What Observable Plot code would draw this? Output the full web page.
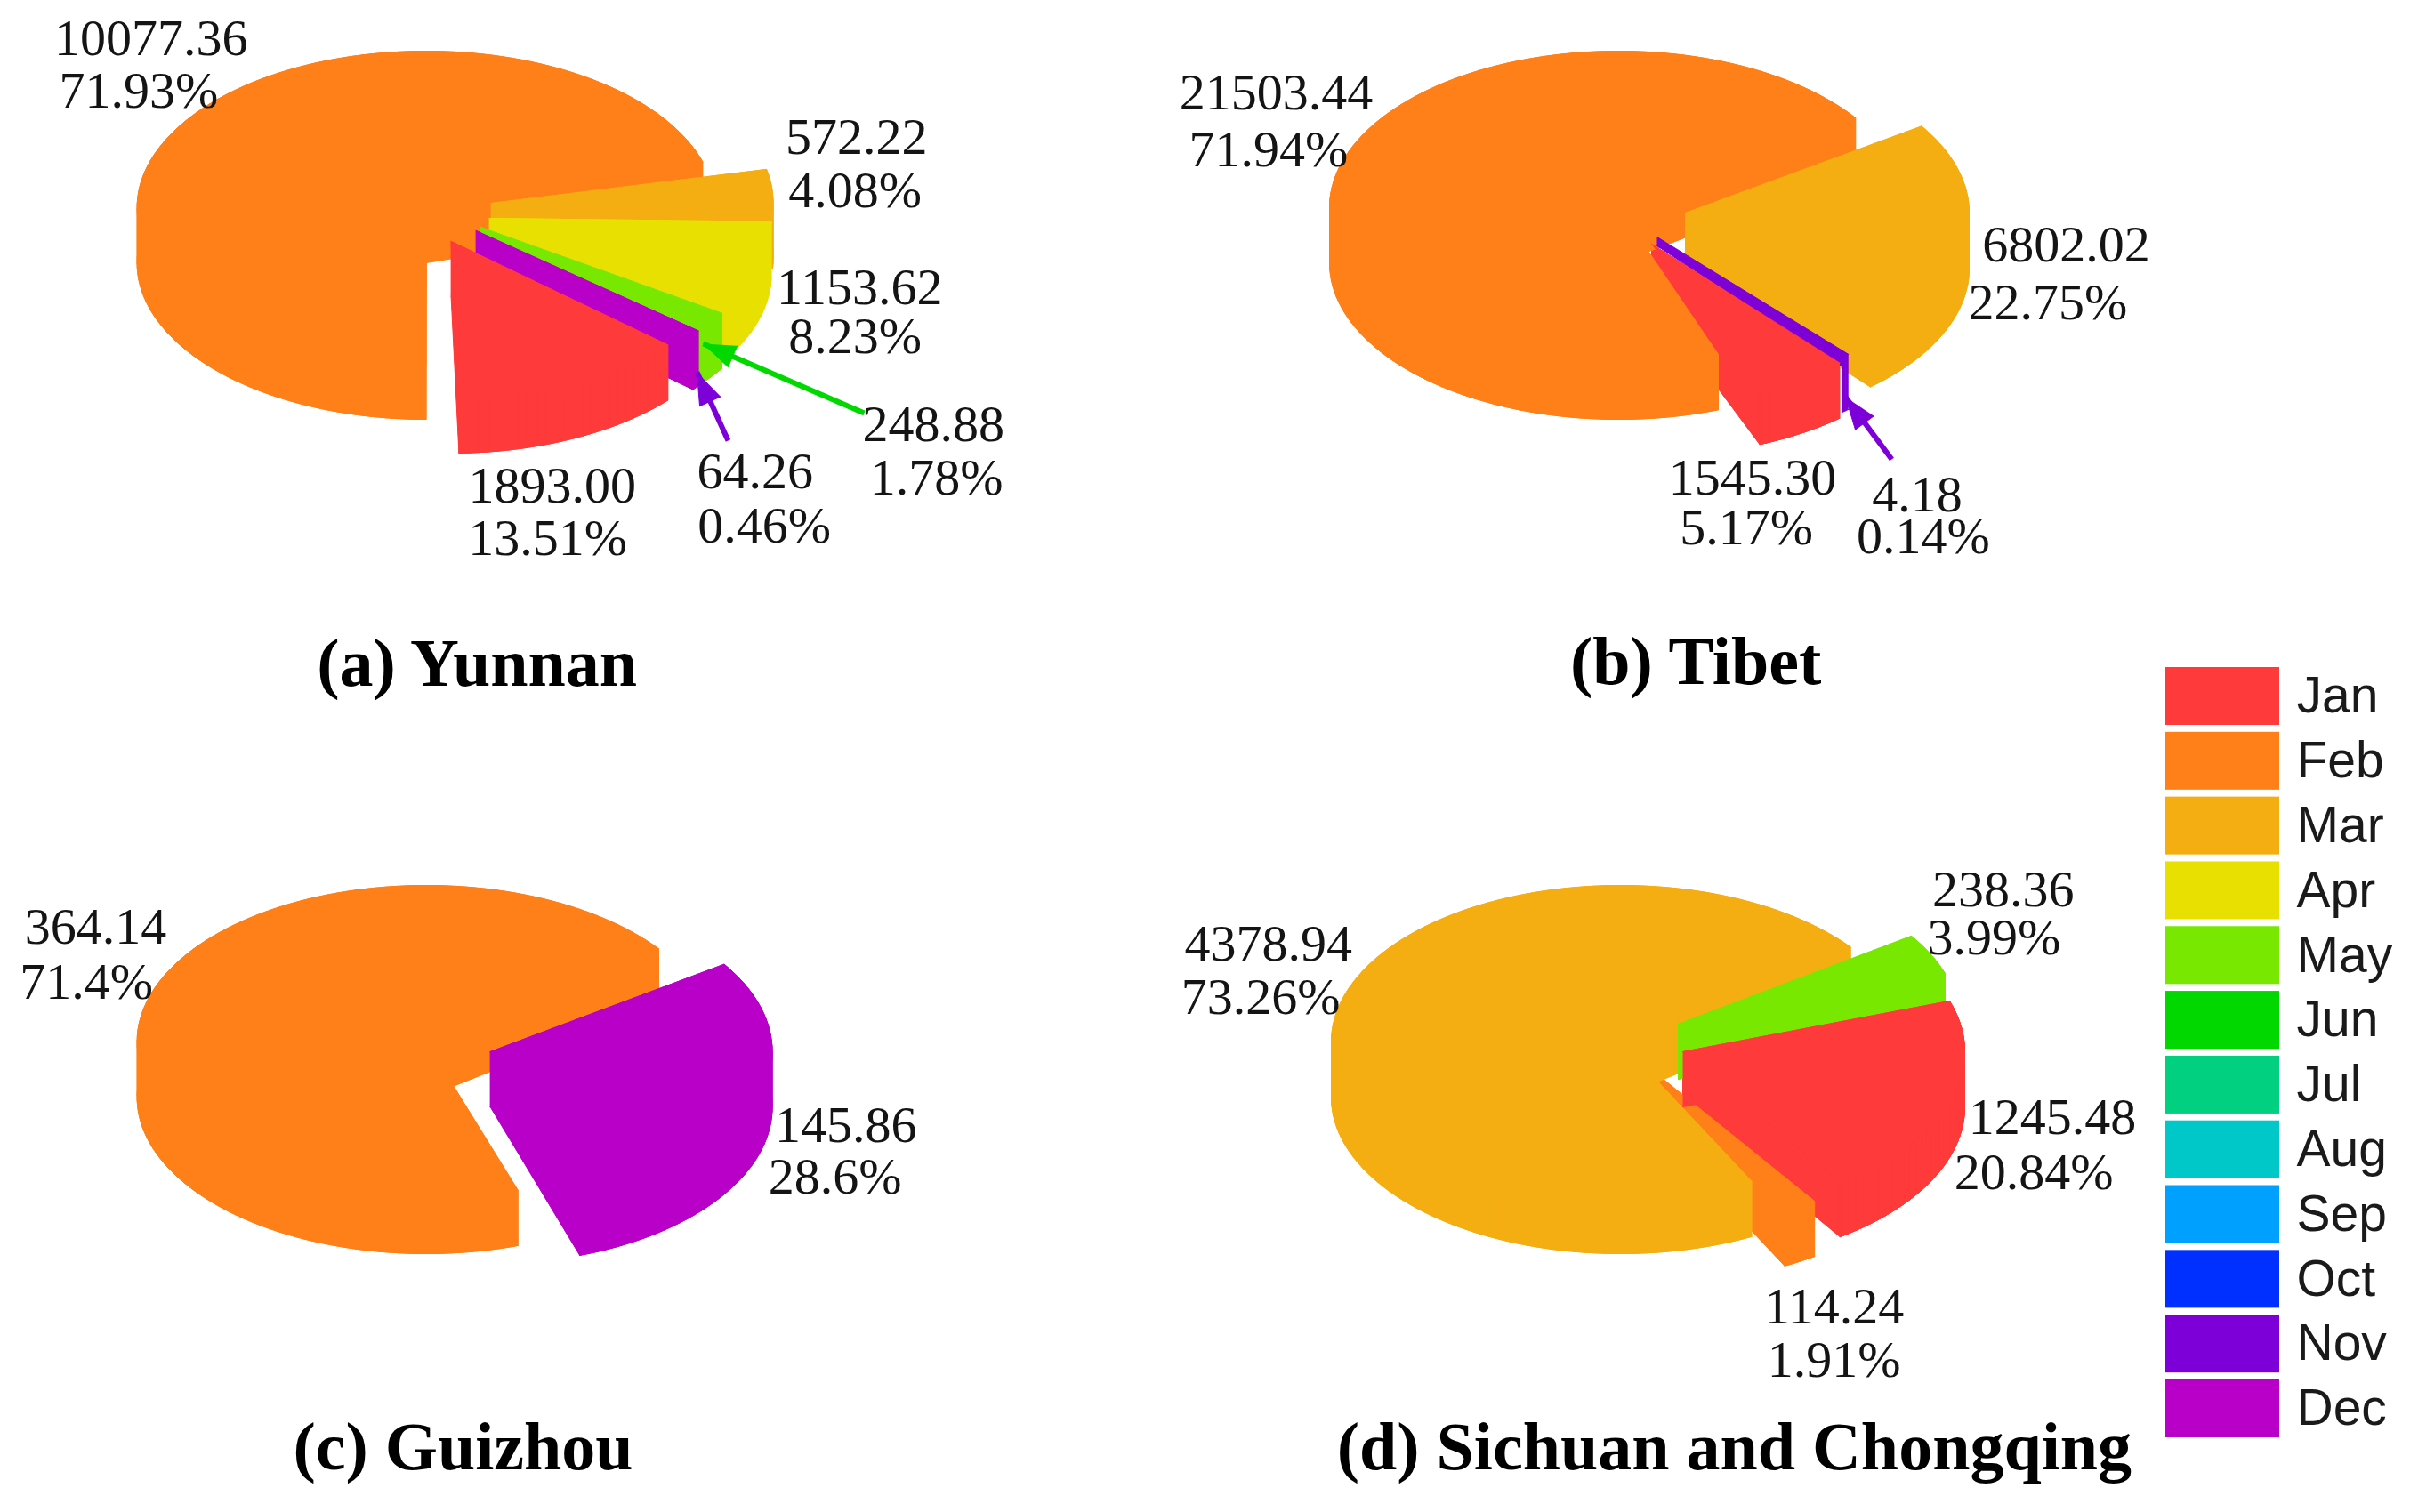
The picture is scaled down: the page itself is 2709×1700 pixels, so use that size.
<!DOCTYPE html>
<html>
<head>
<meta charset="utf-8">
<script src="https://cdn.jsdelivr.net/npm/d3@7"></script>
<script src="https://cdn.jsdelivr.net/npm/@observablehq/plot@0.6"></script>
<style>
  html, body { margin: 0; padding: 0; background: #fff; }
  #page { position: relative; width: 2709px; height: 1700px; overflow: hidden; }
  #page svg { display: block; position: absolute; overflow: visible; }
</style>
</head>
<body>
<div id="page"></div>
<script>
// ---------- data ----------
const months = ["Jan","Feb","Mar","Apr","May","Jun","Jul","Aug","Sep","Oct","Nov","Dec"];
const monthColors = ["#FF3A3A","#FF8018","#F5AE12","#E8E000","#78E800","#00D800","#00D080","#00C8C8","#00A0FF","#0030FF","#7D00D8","#B800C8"];

const yunnanMonths = ["Jan","Feb","Mar","Apr","May","Dec"];
const yunnanValues = [1893.00, 10077.36, 572.22, 1153.62, 248.88, 64.26];
const yunnanShares = ["13.51%","71.93%","4.08%","8.23%","1.78%","0.46%"];

const tibetMonths = ["Jan","Feb","Mar","Nov"];
const tibetValues = [1545.30, 21503.44, 6802.02, 4.18];
const tibetShares = ["5.17%","71.94%","22.75%","0.14%"];

const guizhouMonths = ["Feb","Dec"];
const guizhouValues = [364.14, 145.86];
const guizhouShares = ["71.4%","28.6%"];

const sichuanMonths = ["Jan","Feb","Mar","May"];
const sichuanValues = [1245.48, 114.24, 4378.94, 238.36];
const sichuanShares = ["20.84%","1.91%","73.26%","3.99%"];

// ---------- layout (pixels of the page) ----------
const W = 2709, H = 1700, PX = 1.7277;
const RX = 325, RY = 176, DEPTH = 62, STRIP_DEPTH = 10, MIN_SWEEP = 1.7;

const panels = [
  { title: "(a) Yunnan", titleAt: [310, 432],
    months: yunnanMonths, values: yunnanValues, shares: yunnanShares,
    cx: 478.6, cy: 233, start: 131.4,
    shift: { Feb:[0,0], Mar:[73,-5], Apr:[71,12], May:[61,22], Dec:[56,26], Jan:[28,38] },
    nudge: { Feb:[0,-6], Mar:[-1.5,0], Apr:[-2.5,0], Jan:[0,-1.6] },
    radius: { Mar:317, Apr:317 },
    order: ["Feb","Mar","Apr","May","Dec","Jan"],
    labels: { Feb:[[98,25],[90,59]], Mar:[[557,89],[556,124]], Apr:[[559,187],[556,219]],
              May:[[607,276],[609,311]], Dec:[[491,307],[497,342]], Jan:[[359,316],[356,350]] } },
  { title: "(b) Tibet", titleAt: [1103, 431],
    months: tibetMonths, values: tibetValues, shares: tibetShares,
    cx: 1819, cy: 233, start: 139.4,
    shift: { Feb:[0,0], Mar:[75,6], Jan:[37,41], Nov:[43,33] },
    nudge: { Feb:[1.8,-2.3], Mar:[-1,0] },
    radius: { Mar:319 },
    order: ["Jan","Feb","Mar","Nov:strip","Jan:front"],
    labels: { Feb:[[830,60],[825,97]], Mar:[[1344,159],[1332,197]],
              Jan:[[1140,311],[1136,343]], Nov:[[1247,322],[1251,349]] } },
  { title: "(c) Guizhou", titleAt: [301, 942],
    months: guizhouMonths, values: guizhouValues, shares: guizhouShares,
    cx: 478.6, cy: 1171, start: 161.5,
    shift: { Feb:[0,0], Dec:[72,11] },
    nudge: { Feb:[0,-5], Dec:[-2.5,0] },
    radius: { Dec:317 },
    order: ["Feb","Dec"],
    labels: { Feb:[[62,603],[56,639]], Dec:[[550,732],[543,766]] } },
  { title: "(d) Sichuan and Chongqing", titleAt: [1128, 942],
    months: sichuanMonths, values: sichuanValues, shares: sichuanShares,
    cx: 1821, cy: 1171, start: 71.1,
    shift: { Mar:[0,0], May:[65,-20], Jan:[70,11], Feb:[37,33] },
    nudge: { Mar:[0,-4], May:[-1,0] },
    radius: { Jan:317, May:317 },
    order: ["Jan","Feb","Mar","May","Jan:frontEdge"],
    labels: { Mar:[[825,614],[820,649]], May:[[1303,579],[1297,610]],
              Jan:[[1335,727],[1323,763]], Feb:[[1193,850],[1193,885]] } }
];

const leaders = [
  { x1: 971, y1: 464, x2: 790, y2: 386, month: "Jun" },
  { x1: 818, y1: 495, x2: 783, y2: 418, month: "Nov" },
  { x1: 2126, y1: 516, x2: 2074, y2: 446, month: "Nov" }
];
const HEAD_LENGTH = 36, HEAD_HALF = 13;

// ---------- geometry: slice angles come from the values ----------
const rad = d => d * Math.PI / 180;
let pieceId = 0;
function addPolygon(rows, month, poly) {
  const key = "p" + (pieceId++);
  for (const [x, y] of poly) rows.push({ key, month, x, y });
}
function slicePieces(panel) {
  const rows = [];
  const pie = d3.pie().sort(null)
    .startAngle(rad(panel.start))
    .endAngle(rad(panel.start) + 2 * Math.PI);
  const arcs = pie(panel.values);
  const byMonth = new Map(panel.months.map((m, i) => [m, arcs[i]]));
  for (const entry of panel.order) {
    const [month, part] = entry.split(":");
    const arc = byMonth.get(month);
    let a0 = arc.startAngle * 180 / Math.PI;
    let a1 = arc.endAngle * 180 / Math.PI;
    if (a1 - a0 < MIN_SWEEP) { const m = (a0 + a1) / 2; a0 = m - MIN_SWEEP / 2; a1 = m + MIN_SWEEP / 2; }
    const [n0, n1] = panel.nudge[month] || [0, 0];
    a0 += n0; a1 += n1;
    const [dx, dy] = panel.shift[month];
    const rx = panel.radius[month] || RX;
    const ax = panel.cx + dx, ay = panel.cy + dy;
    const ring = [[ax, ay]];
    const steps = Math.max(2, Math.ceil((a1 - a0) / 2));
    for (let i = 0; i <= steps; i++) {
      const t = rad(a0 + (a1 - a0) * i / steps);
      ring.push([ax + rx * Math.sin(t), ay - RY * Math.cos(t)]);
    }
    const last = ring.length - 1;
    const wall = (p, q, depth = DEPTH) =>
      addPolygon(rows, month, [p, q, [q[0], q[1] + depth], [p[0], p[1] + depth]]);
    if (!part) {
      addPolygon(rows, month, ring.map(([x, y]) => [x, y + DEPTH]));
      ring.forEach((p, i) => wall(p, ring[(i + 1) % ring.length]));
    } else {
      if (part === "frontEdge") wall(ring[0], ring[1]);
      if (part === "strip") wall(ring[0], ring[last], STRIP_DEPTH);
      for (let i = 1; i < last; i++) wall(ring[i], ring[i + 1]);
    }
    addPolygon(rows, month, ring);
  }
  return rows;
}
const pieces = panels.flatMap(slicePieces);

const arrowHeads = [];
for (const l of leaders) {
  const len = Math.hypot(l.x1 - l.x2, l.y1 - l.y2);
  const ux = (l.x1 - l.x2) / len, uy = (l.y1 - l.y2) / len;
  const bx = l.x2 + ux * HEAD_LENGTH, by = l.y2 + uy * HEAD_LENGTH;
  addPolygon(arrowHeads, l.month, [[l.x2, l.y2], [bx - uy * HEAD_HALF, by + ux * HEAD_HALF], [bx + uy * HEAD_HALF, by - ux * HEAD_HALF]]);
}

const numberLabels = panels.flatMap(p => p.months.map((m, i) => [
  { text: p.values[i].toFixed(2), x: p.labels[m][0][0] * PX, y: p.labels[m][0][1] * PX },
  { text: p.shares[i],            x: p.labels[m][1][0] * PX, y: p.labels[m][1][1] * PX }
]).flat());

const titles = panels.map(p => ({ text: p.title, x: p.titleAt[0] * PX, y: p.titleAt[1] * PX }));

const colorScale = { type: "ordinal", domain: months, range: monthColors };

// ---------- main chart ----------
const main = Plot.plot({
  width: W, height: H,
  marginTop: 0, marginRight: 0, marginBottom: 0, marginLeft: 0,
  x: { domain: [0, W], range: [0, W], axis: null },
  y: { domain: [0, H], range: [0, H], axis: null },
  color: colorScale,
  style: { background: "transparent" },
  marks: [
    Plot.line(pieces, { x: "x", y: "y", z: "key", fill: "month", stroke: "month", strokeWidth: 1 }),
    Plot.link(leaders, { x1: "x1", y1: "y1", x2: "x2", y2: "y2", stroke: "month", strokeWidth: 6 }),
    Plot.line(arrowHeads, { x: "x", y: "y", z: "key", fill: "month", stroke: "month", strokeWidth: 1 }),
    Plot.text(numberLabels, { x: "x", y: "y", text: "text", fill: "#141414",
      fontFamily: "Liberation Serif", fontSize: 58 }),
    Plot.text(titles, { x: "x", y: "y", text: "text", fill: "#000",
      fontFamily: "Liberation Serif", fontWeight: "bold", fontSize: 76 })
  ]
});
main.style.left = "0px"; main.style.top = "0px";
document.getElementById("page").append(main);

// ---------- month legend ----------
const legend = Plot.plot({
  width: 309, height: 866,
  marginTop: 0, marginRight: 147, marginBottom: 0, marginLeft: 34,
  x: { axis: null },
  y: { type: "band", domain: months, paddingInner: 0.107, paddingOuter: 0, round: false, axis: null },
  color: colorScale,
  style: { background: "transparent" },
  marks: [
    Plot.cell(months, { y: d => d, fill: d => d }),
    Plot.text(months, { y: d => d, text: d => d, frameAnchor: "right", dx: 19, textAnchor: "start",
      fill: "#1a1a1a", fontFamily: "Liberation Sans", fontSize: 57 })
  ]
});
legend.style.left = "2400px"; legend.style.top = "750px";
document.getElementById("page").append(legend);
</script>
</body>
</html>
